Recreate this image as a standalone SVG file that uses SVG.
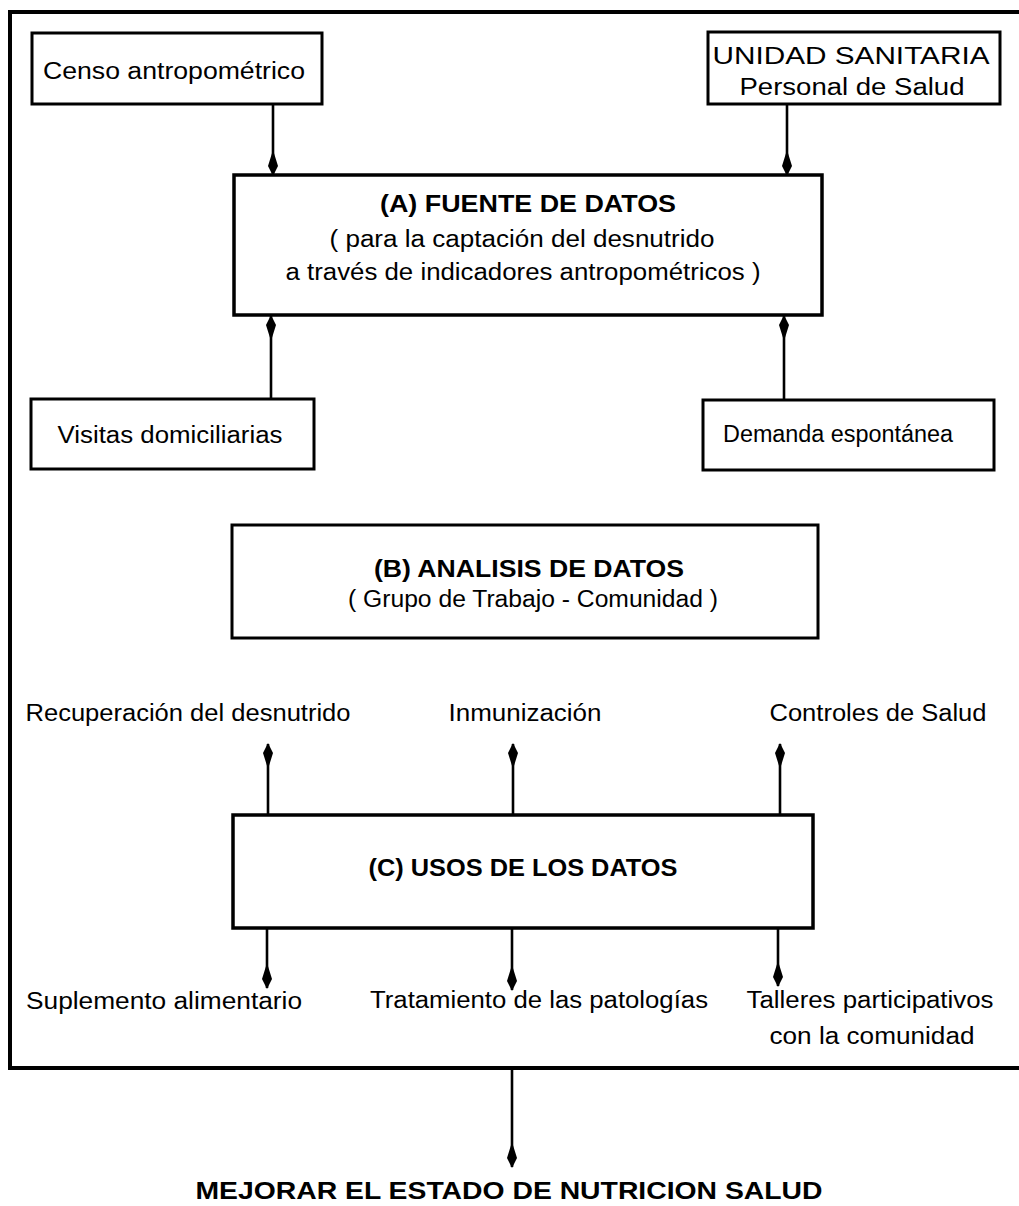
<svg xmlns="http://www.w3.org/2000/svg" width="1019" height="1206" viewBox="0 0 1019 1206">
<style>
  .box{fill:#fff;stroke:#000;stroke-width:3}
  .frame{fill:none;stroke:#000;stroke-width:4}
  .t{font-family:"Liberation Sans",Arial,sans-serif;font-size:23px;fill:#000;text-anchor:middle}
  .b{font-weight:bold}
  .c{fill:none;stroke:#000;stroke-width:2.6;marker-end:url(#ah)}
</style>
<defs>
  <marker id="ah" viewBox="0 0 26 11" refX="25" refY="5.5" markerWidth="26" markerHeight="11" markerUnits="userSpaceOnUse" orient="auto">
    <path d="M0,5.5 L16,0.5 L26,5.5 L16,10.5 Z" fill="#000"/>
  </marker>
</defs>
<rect width="1019" height="1206" fill="#fff"/>
<path class="frame" d="M1021 12 H10 V1068 H1021"/>

<g id="connectors">
  <line class="c" x1="273" y1="104" x2="273" y2="175"/>
  <line class="c" x1="787" y1="104" x2="787" y2="175"/>
  <line class="c" x1="271" y1="399" x2="271" y2="316"/>
  <line class="c" x1="784" y1="400" x2="784" y2="316"/>
  <line class="c" x1="268" y1="815" x2="268" y2="744"/>
  <line class="c" x1="513" y1="815" x2="513" y2="744"/>
  <line class="c" x1="780" y1="815" x2="780" y2="744"/>
  <line class="c" x1="267" y1="928" x2="267" y2="988"/>
  <line class="c" x1="512" y1="928" x2="512" y2="990"/>
  <line class="c" x1="778" y1="928" x2="778" y2="986"/>
  <line class="c" x1="512" y1="1068" x2="512" y2="1167"/>
</g>

<g id="censo">
  <rect class="box" x="32" y="33" width="290" height="71"/>
  <text class="t" x="174" y="79" textLength="262" lengthAdjust="spacingAndGlyphs">Censo antropométrico</text>
</g>
<g id="unidad">
  <rect class="box" x="708" y="32" width="292" height="72"/>
  <text class="t" x="851" y="64" textLength="277" lengthAdjust="spacingAndGlyphs">UNIDAD SANITARIA</text>
  <text class="t" x="852" y="95" textLength="225" lengthAdjust="spacingAndGlyphs">Personal de Salud</text>
</g>
<g id="fuente">
  <rect class="box" x="234" y="175" width="588" height="140" style="stroke-width:3.5"/>
  <text class="t b" x="528" y="212" font-size="25" textLength="296" lengthAdjust="spacingAndGlyphs">(A) FUENTE DE DATOS</text>
  <text class="t" x="522" y="247" textLength="385" lengthAdjust="spacingAndGlyphs">( para la captación del desnutrido</text>
  <text class="t" x="523" y="280" textLength="475" lengthAdjust="spacingAndGlyphs">a través de indicadores antropométricos )</text>
</g>
<g id="visitas">
  <rect class="box" x="31" y="399" width="283" height="70"/>
  <text class="t" x="170" y="443" textLength="225" lengthAdjust="spacingAndGlyphs">Visitas domiciliarias</text>
</g>
<g id="demanda">
  <rect class="box" x="703" y="400" width="291" height="70"/>
  <text class="t" x="838" y="442" textLength="230" lengthAdjust="spacingAndGlyphs">Demanda espontánea</text>
</g>
<g id="analisis">
  <rect class="box" x="232" y="525" width="586" height="113"/>
  <text class="t b" x="529" y="577" font-size="24" textLength="310" lengthAdjust="spacingAndGlyphs">(B) ANALISIS DE DATOS</text>
  <text class="t" x="533" y="607" textLength="370" lengthAdjust="spacingAndGlyphs">( Grupo de Trabajo - Comunidad )</text>
</g>
<g id="recuperacion">
  <text class="t" x="188" y="721" textLength="325" lengthAdjust="spacingAndGlyphs">Recuperación del desnutrido</text>
</g>
<g id="inmunizacion">
  <text class="t" x="525" y="721" textLength="153" lengthAdjust="spacingAndGlyphs">Inmunización</text>
</g>
<g id="controles">
  <text class="t" x="878" y="721" textLength="217" lengthAdjust="spacingAndGlyphs">Controles de Salud</text>
</g>
<g id="usos">
  <rect class="box" x="233" y="815" width="580" height="113" style="stroke-width:3.5"/>
  <text class="t b" x="523" y="876" font-size="24" textLength="309" lengthAdjust="spacingAndGlyphs">(C) USOS DE LOS DATOS</text>
</g>
<g id="suplemento">
  <text class="t" x="164" y="1009" textLength="276" lengthAdjust="spacingAndGlyphs">Suplemento alimentario</text>
</g>
<g id="tratamiento">
  <text class="t" x="539" y="1008" textLength="338" lengthAdjust="spacingAndGlyphs">Tratamiento de las patologías</text>
</g>
<g id="talleres">
  <text class="t" x="870" y="1008" textLength="247" lengthAdjust="spacingAndGlyphs">Talleres participativos</text>
  <text class="t" x="872" y="1044" textLength="205" lengthAdjust="spacingAndGlyphs">con la comunidad</text>
</g>
<g id="mejorar">
  <text class="t b" x="509" y="1199" font-size="27" textLength="627" lengthAdjust="spacingAndGlyphs">MEJORAR EL ESTADO DE NUTRICION SALUD</text>
</g>
</svg>
